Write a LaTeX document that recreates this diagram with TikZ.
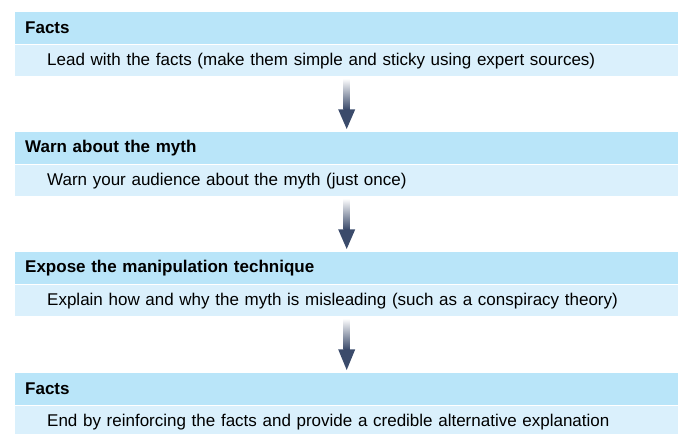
\documentclass[tikz,border=0pt]{standalone}
\usepackage{fontspec}
\setmainfont{Liberation Sans}
\usetikzlibrary{calc}
\definecolor{headc}{HTML}{B9E5F9}
\definecolor{bodyc}{HTML}{DAF0FC}
\definecolor{arrowc}{HTML}{3B4B6B}
\tikzset{
  headbox/.style={rectangle, fill=headc, anchor=north west, minimum width=663pt, minimum height=32pt,
    text width=643pt, inner xsep=10pt, inner ysep=0pt, align=left, font=\fontsize{17}{19}\selectfont\bfseries},
  bodybox/.style={rectangle, fill=bodyc, anchor=north west, minimum width=663pt, minimum height=31pt,
    text width=643pt, inner xsep=10pt, inner ysep=0pt, align=left, font=\fontsize{17}{19}\selectfont},
}
\newcommand{\flowarrow}[2]{%
  \shade[top color=white, bottom color=arrowc] ($(#1.south)+(-3.25,2)$) rectangle ($(#1.south)+(3.25,33)$);
  \fill[arrowc] ($(#1.south)+(-8.5,33)$) -- ($(#1.south)+(8.5,33)$) -- ($(#2.north)+(0,-3)$) -- cycle;
}
\begin{document}
\begin{tikzpicture}[x=1pt,y=-1pt]
\useasboundingbox (0,0) rectangle (678,434);
\node[headbox] (h1) at (15,12) {Facts};
\node[bodybox] (b1) at (15,45) {\hspace*{22pt}Lead with the facts (make them simple and sticky using expert sources)};
\node[headbox] (h2) at (15,132) {Warn about the myth};
\node[bodybox] (b2) at (15,165) {\hspace*{22pt}Warn your audience about the myth (just once)};
\node[headbox] (h3) at (15,252) {Expose the manipulation technique};
\node[bodybox] (b3) at (15,285) {\hspace*{22pt}Explain how and why the myth is misleading (such as a conspiracy theory)};
\node[headbox] (h4) at (15,373) {Facts};
\node[bodybox] (b4) at (15,406) {\hspace*{22pt}End by reinforcing the facts and provide a credible alternative explanation};
\flowarrow{b1}{h2}
\flowarrow{b2}{h3}
\flowarrow{b3}{h4}
\end{tikzpicture}
\end{document}
